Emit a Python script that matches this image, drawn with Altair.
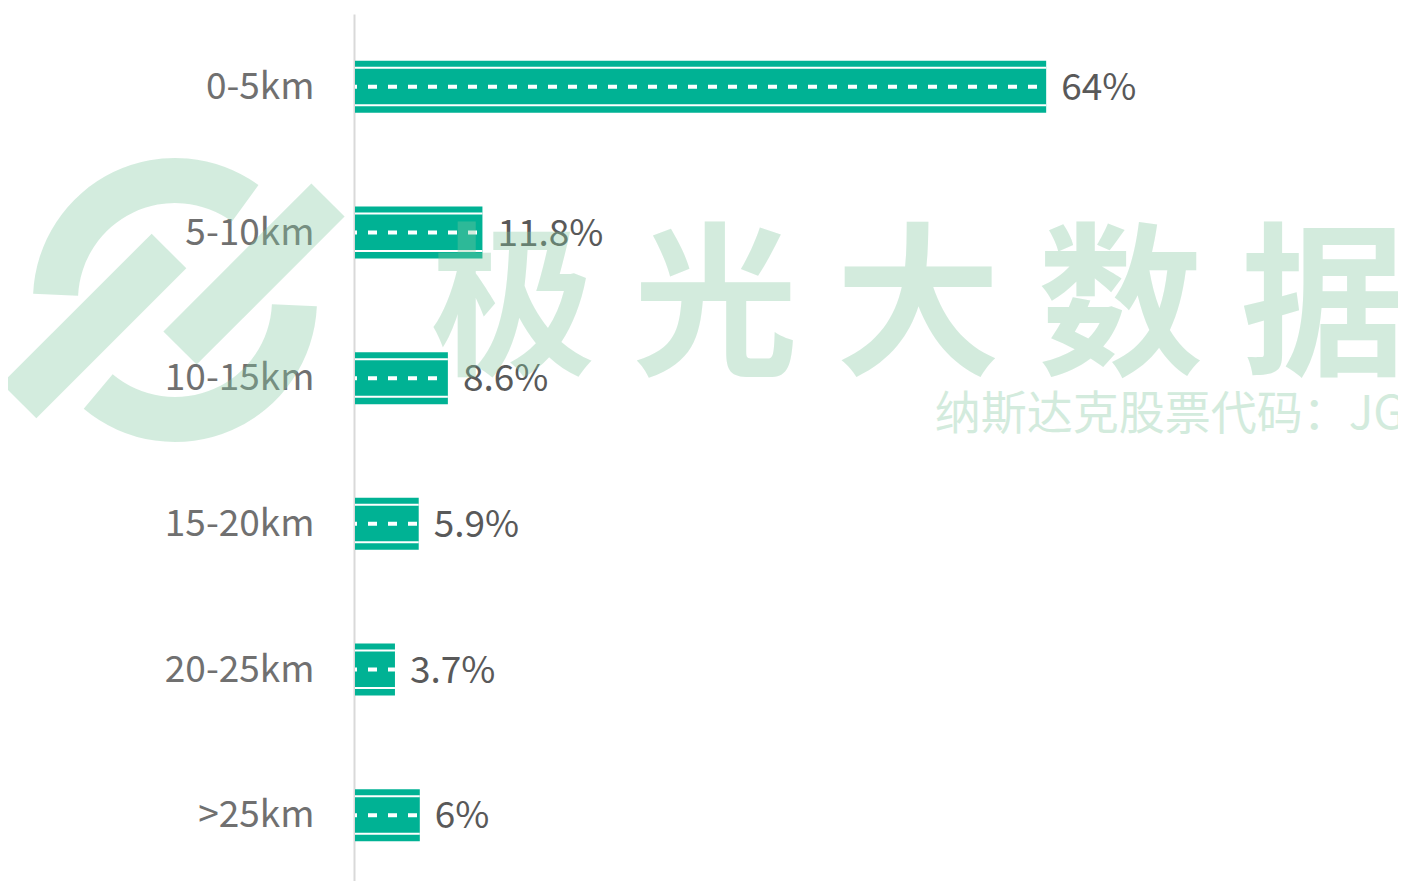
import math
import altair as alt
import pandas as pd

categories = ["0-5km", "5-10km", "10-15km", "15-20km", "20-25km", ">25km"]
values = [64, 11.8, 8.6, 5.9, 3.7, 6]
value_labels = ["64%", "11.8%", "8.6%", "5.9%", "3.7%", "6%"]

TEAL = "#00B294"
FONT = "Noto Sans CJK SC"
WM_COLOR = "#82c8a0"
WM_OPACITY = 0.35

df = pd.DataFrame({"cat": categories, "value": values, "label": value_labels})

y_enc = alt.Y("cat:N", sort=categories, title=None,
              scale=alt.Scale(range=[0, 874], paddingInner=0, paddingOuter=0),
              axis=alt.Axis(domain=True, domainColor="#d9d9d9", domainWidth=2, offset=1,
                            ticks=False, tickSize=0, grid=False, labelFontSize=37,
                            labelFont=FONT, labelColor="#707070", labelPadding=40,
                            labelOffset=1))
x_scale = alt.Scale(domain=[0, 96.3], nice=False, zero=True)

base = alt.Chart(df).transform_calculate(zero="0")

bars = base.mark_bar(height=52, color=TEAL).encode(
    y=y_enc,
    x=alt.X("value:Q", scale=x_scale, axis=None),
)

line_top = base.mark_rule(color="white", strokeWidth=2, yOffset=-19).encode(
    y=alt.Y("cat:N", sort=categories), x=alt.X("zero:Q", scale=x_scale), x2="value:Q")
line_bot = base.mark_rule(color="white", strokeWidth=2, yOffset=18.5).encode(
    y=alt.Y("cat:N", sort=categories), x=alt.X("zero:Q", scale=x_scale), x2="value:Q")
dashes = base.mark_rule(color="white", strokeWidth=4, strokeDash=[9, 11],
                        strokeDashOffset=7).encode(
    y=alt.Y("cat:N", sort=categories), x=alt.X("zero:Q", scale=x_scale), x2="value:Q")

texts = base.mark_text(align="left", baseline="middle", dx=15, dy=2, fontSize=37,
                       font=FONT, color="#595959").encode(
    y=alt.Y("cat:N", sort=categories), x=alt.X("value:Q", scale=x_scale), text="label:N")

# watermark (decoration)
wm_df = pd.DataFrame({"t": ["极 光 大 数 据"], "s": ["纳斯达克股票代码：JG"]})
wm_main = alt.Chart(wm_df).mark_text(
    align="center", baseline="middle", fontSize=165, font=FONT, fontWeight="bold",
    color=WM_COLOR, opacity=WM_OPACITY).encode(
    x=alt.value(563), y=alt.value(298), text="t:N")
wm_sub = alt.Chart(wm_df).mark_text(
    align="right", baseline="middle", fontSize=46, font=FONT,
    color=WM_COLOR, opacity=WM_OPACITY).encode(
    x=alt.value(1050), y=alt.value(401), text="s:N")

# logo watermark (decoration): two ring segments and two diagonal strokes
logo_df = pd.DataFrame({"k": [0]})
d2r = math.pi / 180
ring_upper = alt.Chart(logo_df).mark_arc(color=WM_COLOR, opacity=WM_OPACITY).encode(
    x=alt.value(-180), y=alt.value(286),
    theta=alt.value(272.5 * d2r), theta2=alt.value(396 * d2r),
    radius=alt.value(142), radius2=alt.value(97))
ring_lower = alt.Chart(logo_df).mark_arc(color=WM_COLOR, opacity=WM_OPACITY).encode(
    x=alt.value(-180), y=alt.value(286),
    theta=alt.value(92.5 * d2r), theta2=alt.value(220 * d2r),
    radius=alt.value(142), radius2=alt.value(97))
stroke_left = alt.Chart(logo_df).mark_rule(color=WM_COLOR, opacity=WM_OPACITY,
                                           strokeWidth=49, strokeCap="butt").encode(
    x=alt.value(-336), y=alt.value(387), x2=alt.value(-186), y2=alt.value(237))
stroke_right = alt.Chart(logo_df).mark_rule(color=WM_COLOR, opacity=WM_OPACITY,
                                            strokeWidth=47, strokeCap="butt").encode(
    x=alt.value(-27), y=alt.value(186), x2=alt.value(-175), y2=alt.value(334))

chart = alt.layer(bars, line_top, line_bot, dashes, texts, wm_main, wm_sub,
                  ring_upper, ring_lower, stroke_left, stroke_right).properties(
    width=1040, height=867,
    autosize=alt.AutoSizeParams(type="none"),
    padding={"left": 347, "top": 6, "right": 3, "bottom": 0},
).configure_view(stroke=None)

chart.save("out.html", embed_options={"renderer": "svg", "actions": False})
